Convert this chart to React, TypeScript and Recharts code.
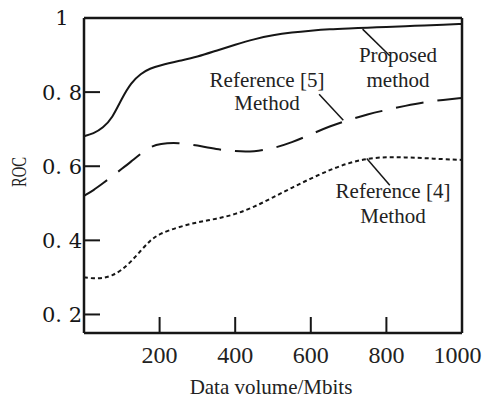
import React from "react";
import {
  LineChart,
  Line,
  XAxis,
  YAxis,
  ReferenceLine,
} from "recharts";

// data volume in Mbits
const volumes = [
  0, 25, 50, 75, 100, 125, 150, 175, 200, 250, 300, 350, 400, 450, 500, 550,
  600, 650, 700, 750, 800, 850, 900, 950, 1000,
];

const proposed = [
  0.681, 0.688, 0.703, 0.73, 0.783, 0.826, 0.85, 0.864, 0.872, 0.884, 0.895,
  0.912, 0.928, 0.943, 0.954, 0.961, 0.966, 0.97, 0.972, 0.974, 0.976, 0.978,
  0.98, 0.982, 0.984,
];

const reference5 = [
  0.52, 0.535, 0.554, 0.573, 0.593, 0.613, 0.634, 0.652, 0.661, 0.664, 0.656,
  0.646, 0.64, 0.639, 0.648, 0.664, 0.686, 0.708, 0.725, 0.74, 0.752, 0.763,
  0.773, 0.779, 0.784,
];

const reference4 = [
  0.3, 0.297, 0.298, 0.305, 0.32, 0.343, 0.372, 0.4, 0.418, 0.436, 0.449,
  0.458, 0.47, 0.49, 0.516, 0.542, 0.567, 0.59, 0.609, 0.621, 0.625, 0.624,
  0.622, 0.619, 0.617,
];

const xTicks = [200, 400, 600, 800, 1000];
const yTicks = [0.2, 0.4, 0.6, 0.8, 1];

const data = volumes.map((v, i) => ({
  volume: v,
  proposed: proposed[i],
  ref5: reference5[i],
  ref4: reference4[i],
}));

const serif = "Liberation Serif";
const ink = "#161616";

const labelStyle = { fontFamily: serif };

export default function App() {
  return (
    <div style={{ position: "absolute", left: 0, top: 0 }}>
      <LineChart
        width={488}
        height={399}
        data={data}
        margin={{ top: 18, right: 26, bottom: 26, left: 24 }}
      >
        <XAxis
          dataKey="volume"
          type="number"
          domain={[0, 1000]}
          ticks={xTicks}
          height={40}
          tickSize={-16}
          tickMargin={29}
          axisLine={{ stroke: ink, strokeWidth: 2.5 }}
          tickLine={{ stroke: ink, strokeWidth: 2 }}
          tick={{ fontFamily: serif, style: labelStyle, fontSize: 24, fill: "#222" }}
        />
        <YAxis
          type="number"
          domain={[0.15, 1]}
          ticks={yTicks}
          width={60}
          tickSize={-16}
          tickMargin={38}
          axisLine={{ stroke: ink, strokeWidth: 2.5 }}
          tickLine={{ stroke: ink, strokeWidth: 2 }}
          tickFormatter={(v: number) =>
            v === 1 ? "1" : v.toFixed(1).replace(".", ". ")
          }
          tick={{
            fontFamily: "DejaVu Serif",
            style: { fontFamily: "DejaVu Serif" },
            fontSize: 21,
            fill: ink,
            textAnchor: "middle",
          }}
        />
        <ReferenceLine y={1} stroke={ink} strokeWidth={2.5} />
        <ReferenceLine x={1000} stroke={ink} strokeWidth={2.5} />

        <Line
          type="basis"
          dataKey="proposed"
          stroke={ink}
          strokeWidth={2}
          dot={false}
          isAnimationActive={false}
        />
        <Line
          type="basis"
          dataKey="ref5"
          stroke={ink}
          strokeWidth={2}
          strokeDasharray="28 14"
          dot={false}
          isAnimationActive={false}
        />
        <Line
          type="basis"
          dataKey="ref4"
          stroke={ink}
          strokeWidth={2}
          strokeDasharray="4 3"
          dot={false}
          isAnimationActive={false}
        />

        {/* leader lines */}
        <ReferenceLine
          segment={[
            { x: 737, y: 0.97 },
            { x: 809, y: 0.898 },
          ]}
          stroke={ink}
          strokeWidth={1.5}
        />
        <ReferenceLine
          segment={[
            { x: 622, y: 0.794 },
            { x: 686, y: 0.724 },
          ]}
          stroke={ink}
          strokeWidth={1.5}
        />
        <ReferenceLine
          segment={[
            { x: 748, y: 0.621 },
            { x: 809, y: 0.549 },
          ]}
          stroke={ink}
          strokeWidth={1.5}
        />

        <text x={398} y={62} textAnchor="middle" style={labelStyle} fontSize={21} fill="#222">
          Proposed
        </text>
        <text x={398} y={87} textAnchor="middle" style={labelStyle} fontSize={21} fill="#222">
          method
        </text>
        <text x={267} y={87} textAnchor="middle" style={labelStyle} fontSize={21} fill="#222">
          Reference [5]
        </text>
        <text x={267} y={110} textAnchor="middle" style={labelStyle} fontSize={21} fill="#222">
          Method
        </text>
        <text x={393} y={198} textAnchor="middle" style={labelStyle} fontSize={21} fill="#222">
          Reference [4]
        </text>
        <text x={393} y={223} textAnchor="middle" style={labelStyle} fontSize={21} fill="#222">
          Method
        </text>

        <text x={271} y={394} textAnchor="middle" style={labelStyle} fontSize={21} fill="#222">
          Data volume/Mbits
        </text>
        <text
          x={0}
          y={0}
          transform="translate(26 172) rotate(-90)"
          textAnchor="middle"
          style={labelStyle}
          fontSize={20}
          textLength={30}
          lengthAdjust="spacingAndGlyphs"
          fill="#222"
        >
          ROC
        </text>
      </LineChart>
    </div>
  );
}
